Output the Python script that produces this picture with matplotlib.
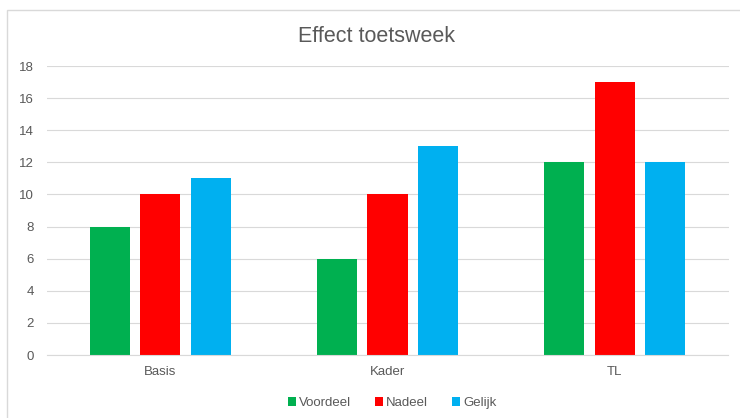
import numpy as np
import matplotlib.pyplot as plt
from matplotlib.patches import Rectangle

categories = ["Basis", "Kader", "TL"]
voordeel = [8, 6, 12]
nadeel = [10, 10, 17]
gelijk = [11, 13, 12]
series_names = ["Voordeel", "Nadeel", "Gelijk"]
colors = ["#00B050", "#FF0000", "#00B0F0"]

W, H = 740, 418
fig = plt.figure(figsize=(W / 100, H / 100), dpi=100)
plt.rcParams["font.family"] = ["Liberation Sans", "DejaVu Sans"]

# chart frame (cut off at right/bottom like the screenshot)
fig.patches.append(Rectangle((7 / W, -0.1), 1.1, 1 - 10 / H + 0.1, transform=fig.transFigure,
                             fill=False, edgecolor="#D9D9D9", linewidth=1.0))

ax = fig.add_axes([46.5 / W, 1 - 355 / H, (728.5 - 46.5) / W, (355 - 66) / H])
x = np.arange(len(categories))
width = 40 / 227
step = 50.5 / 227
for i, (vals, name, c) in enumerate(zip([voordeel, nadeel, gelijk], series_names, colors)):
    ax.bar(x + (i - 1) * step, vals, width, color=c, label=name, zorder=3)

ax.set_xlim(-0.5, len(categories) - 0.5)
ax.set_ylim(0, 18)
ax.set_yticks(range(0, 19, 2))
ax.set_xticks(x)
ax.set_xticklabels(categories)
ax.grid(axis="y", color="#D9D9D9", linewidth=0.8, zorder=0)
for s in ["top", "right", "left"]:
    ax.spines[s].set_visible(False)
ax.spines["bottom"].set_color("#D9D9D9")
ax.spines["bottom"].set_zorder(4)
ax.tick_params(axis="both", length=0, labelsize=9.5, colors="#595959")
ax.tick_params(axis="y", pad=9)
ax.tick_params(axis="x", pad=8)

fig.text(377 / W, 1 - 37 / H, "Effect toetsweek", ha="center", va="center", fontsize=15.5, color="#595959")

fig.legend(loc="center", bbox_to_anchor=(392 / W, 1 - 403 / H), ncol=3, frameon=False,
           fontsize=9.5, labelcolor="#595959", handlelength=0.6, handleheight=0.6,
           handletextpad=0.25, columnspacing=1.8)

fig.savefig("out.png", dpi=100)
